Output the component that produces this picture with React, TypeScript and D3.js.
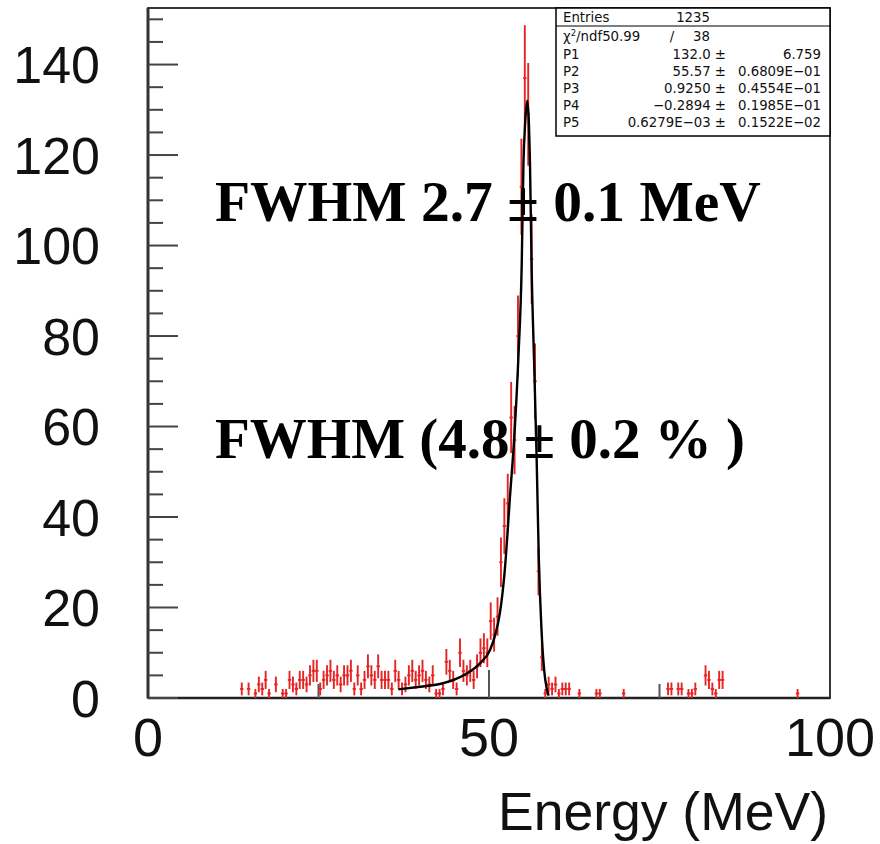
import React from 'react';
import * as d3 from 'd3';

// ---- Data ----
const BIN_WIDTH = 0.5; // MeV
const FIRST_BIN_CENTER = 13.75; // MeV, first bin of `counts`
const counts = [
  2, 0, 2, 0, 1, 3, 2, 4, 1, 0, 3, 0, 1, 1, 4, 3, 2, 4, 4, 3,
  5, 6, 6, 2, 4, 5, 6, 4, 5, 3, 5, 5, 6, 2, 5, 2, 4, 7, 5, 4,
  7, 4, 4, 4, 2, 6, 4, 2, 3, 5, 6, 4, 5, 6, 4, 3, 5, 1, 1, 2,
  8, 6, 4, 2, 10, 6, 5, 6, 4, 7, 10, 11, 10, 17, 14, 18, 30, 38, 43, 62,
  57, 80, 113, 137, 129, 97, 70, 28, 9, 1, 3, 2, 3, 1, 2, 2, 2,
];
const sparseEnergies = [63.25, 65.75, 66.25, 69.75, 76.25, 76.75, 77.75, 78.25, 79.25, 79.75, 80.25, 81.75, 82.25, 82.75, 83.25, 83.75, 84.25, 95.25];
const sparseCounts = [1, 1, 1, 1, 2, 2, 2, 2, 1, 1, 2, 5, 4, 2, 1, 4, 4, 1];

// Fit curve
const fitEnergies = [36.7, 39.9, 42.8, 45.75, 48.7, 50.15, 50.9, 51.6, 52.3, 53.1, 53.7, 54.3, 54.8, 55.05, 55.3, 55.6, 55.85, 56.0, 56.25, 56.6, 57.0, 57.3, 57.7, 58.1, 58.45, 58.75];
const fitValues = [1.9, 2.5, 3.1, 4.6, 7.7, 10.6, 13.9, 18.8, 28, 45, 57.5, 75, 96, 118, 127, 132, 127, 119, 95, 75, 52, 31, 15, 6, 2.2, 0.5];

const yLabelValues = [0, 20, 40, 60, 80, 100, 120, 140];
const xLabelValues = [0, 50, 100];
const xMinorTicks = [25, 75];
const xMajorTicks = [50];

const statsLabels = ['P1', 'P2', 'P3', 'P4', 'P5'];
const statsValues = ['132.0 ±', '55.57 ±', '0.9250 ±', '−0.2894 ±', '0.6279E−03 ±'];
const statsErrors = ['6.759', '0.6809E−01', '0.4554E−01', '0.1985E−01', '0.1522E−02'];

export default function App() {
  const W = 880, H = 844;
  const x = d3.scaleLinear().domain([0, 100]).range([148, 830]);
  const y = d3.scaleLinear().domain([0, 152.5]).range([698, 8]);

  const points: { e: number; c: number }[] = [];
  counts.forEach((c, i) => points.push({ e: FIRST_BIN_CENTER + i * BIN_WIDTH, c }));
  sparseEnergies.forEach((e, i) => points.push({ e, c: sparseCounts[i] }));
  const shown = points.filter((p) => p.c > 0);

  const fitLine = d3
    .line<number>()
    .x((_, i) => x(fitEnergies[i]))
    .y((v) => y(v))
    .curve(d3.curveMonotoneX)(fitValues) as string;

  const yTicks = d3.range(0, 151, 5);
  const red = '#e62424';
  const tickFont = '"Liberation Sans", Arial, sans-serif';
  const statFont = '"DejaVu Sans", sans-serif';
  const serif = '"Liberation Serif", "Times New Roman", serif';

  const boxX0 = 556, boxX1 = 830, boxY0 = 8, boxY1 = 136;
  const rowY = [58.5, 76, 93, 110, 127];

  return (
    <svg width={W} height={H} style={{ position: 'absolute', left: 0, top: 0, background: '#fff' }}>
      <rect x={0} y={0} width={W} height={H} fill="#fff" />
      {/* frame */}
      <rect x={x(0)} y={y(152.5)} width={x(100) - x(0)} height={y(0) - y(152.5)} fill="none" stroke="#222" strokeWidth={1.8} />
      <line x1={x(0)} x2={x(0)} y1={y(152.5)} y2={y(0)} stroke="#333" strokeWidth={3} />
      <line x1={x(0)} x2={x(100)} y1={y(0)} y2={y(0)} stroke="#222" strokeWidth={2.4} />

      {/* y ticks */}
      {yTicks.map((t) => (
        <line key={'yt' + t} x1={x(0)} x2={x(0) + (t % 20 === 0 ? 30 : 15)} y1={y(t)} y2={y(t)} stroke="#444" strokeWidth={2} />
      ))}
      {yLabelValues.map((t) => (
        <text key={'yl' + t} x={100} y={y(t)} dy="0.36em" textAnchor="end" fontFamily={tickFont} fontSize={52} fill="#111">
          {t}
        </text>
      ))}

      {/* x ticks */}
      {xMinorTicks.map((t) => (
        <line key={'xm' + t} x1={x(t)} x2={x(t)} y1={y(0)} y2={y(0) - 14} stroke="#555" strokeWidth={2} />
      ))}
      {xMajorTicks.map((t) => (
        <line key={'xM' + t} x1={x(t)} x2={x(t)} y1={y(0)} y2={y(0) - 28} stroke="#555" strokeWidth={2} />
      ))}
      {xLabelValues.map((t) => (
        <text key={'xl' + t} x={x(t)} y={756} textAnchor="middle" fontFamily={tickFont} fontSize={54} fill="#111">
          {t}
        </text>
      ))}
      <text x={828} y={830} textAnchor="end" fontFamily={tickFont} fontSize={53.5} fill="#111">
        Energy (MeV)
      </text>

      {/* data points with error bars */}
      {shown.map((p, i) => {
        const err = Math.sqrt(p.c);
        const lo = Math.max(0, p.c - err);
        return (
          <g key={'p' + i} stroke={red} strokeWidth={1.9}>
            <line x1={x(p.e)} x2={x(p.e)} y1={y(p.c + err)} y2={y(lo)} />
            <line x1={x(p.e - BIN_WIDTH / 2)} x2={x(p.e + BIN_WIDTH / 2)} y1={y(p.c)} y2={y(p.c)} />
          </g>
        );
      })}

      {/* fit */}
      <path d={fitLine} fill="none" stroke="#000" strokeWidth={2.4} />

      {/* annotations */}
      <text x={215} y={221} fontFamily={serif} fontWeight="bold" fontSize={57.5} fill="#000">
        FWHM 2.7 ± 0.1 MeV
      </text>
      <text x={215} y={458} fontFamily={serif} fontWeight="bold" fontSize={57} fill="#000">
        FWHM (4.8 ± 0.2 % )
      </text>

      {/* stats box */}
      <rect x={boxX0} y={boxY0} width={boxX1 - boxX0} height={boxY1 - boxY0} fill="#fff" stroke="#000" strokeWidth={1.5} />
      <line x1={boxX0} x2={boxX1} y1={26} y2={26} stroke="#000" strokeWidth={1.2} />
      <g fontFamily={statFont} fontSize={13.3} fill="#111">
        <text x={563} y={22}>Entries</text>
        <text x={710} y={22} textAnchor="end">1235</text>
        <text x={563} y={41}>
          χ<tspan dy={-5} fontSize={8.5}>2</tspan>
          <tspan dy={5}>/ndf</tspan>
          <tspan>50.99</tspan>
        </text>
        <text x={672} y={41} textAnchor="middle">/</text>
        <text x={710} y={41} textAnchor="end">38</text>
        {statsLabels.map((l, i) => (
          <g key={l}>
            <text x={563} y={rowY[i]}>{l}</text>
            <text x={726} y={rowY[i]} textAnchor="end">{statsValues[i]}</text>
            <text x={821} y={rowY[i]} textAnchor="end">{statsErrors[i]}</text>
          </g>
        ))}
      </g>
    </svg>
  );
}
